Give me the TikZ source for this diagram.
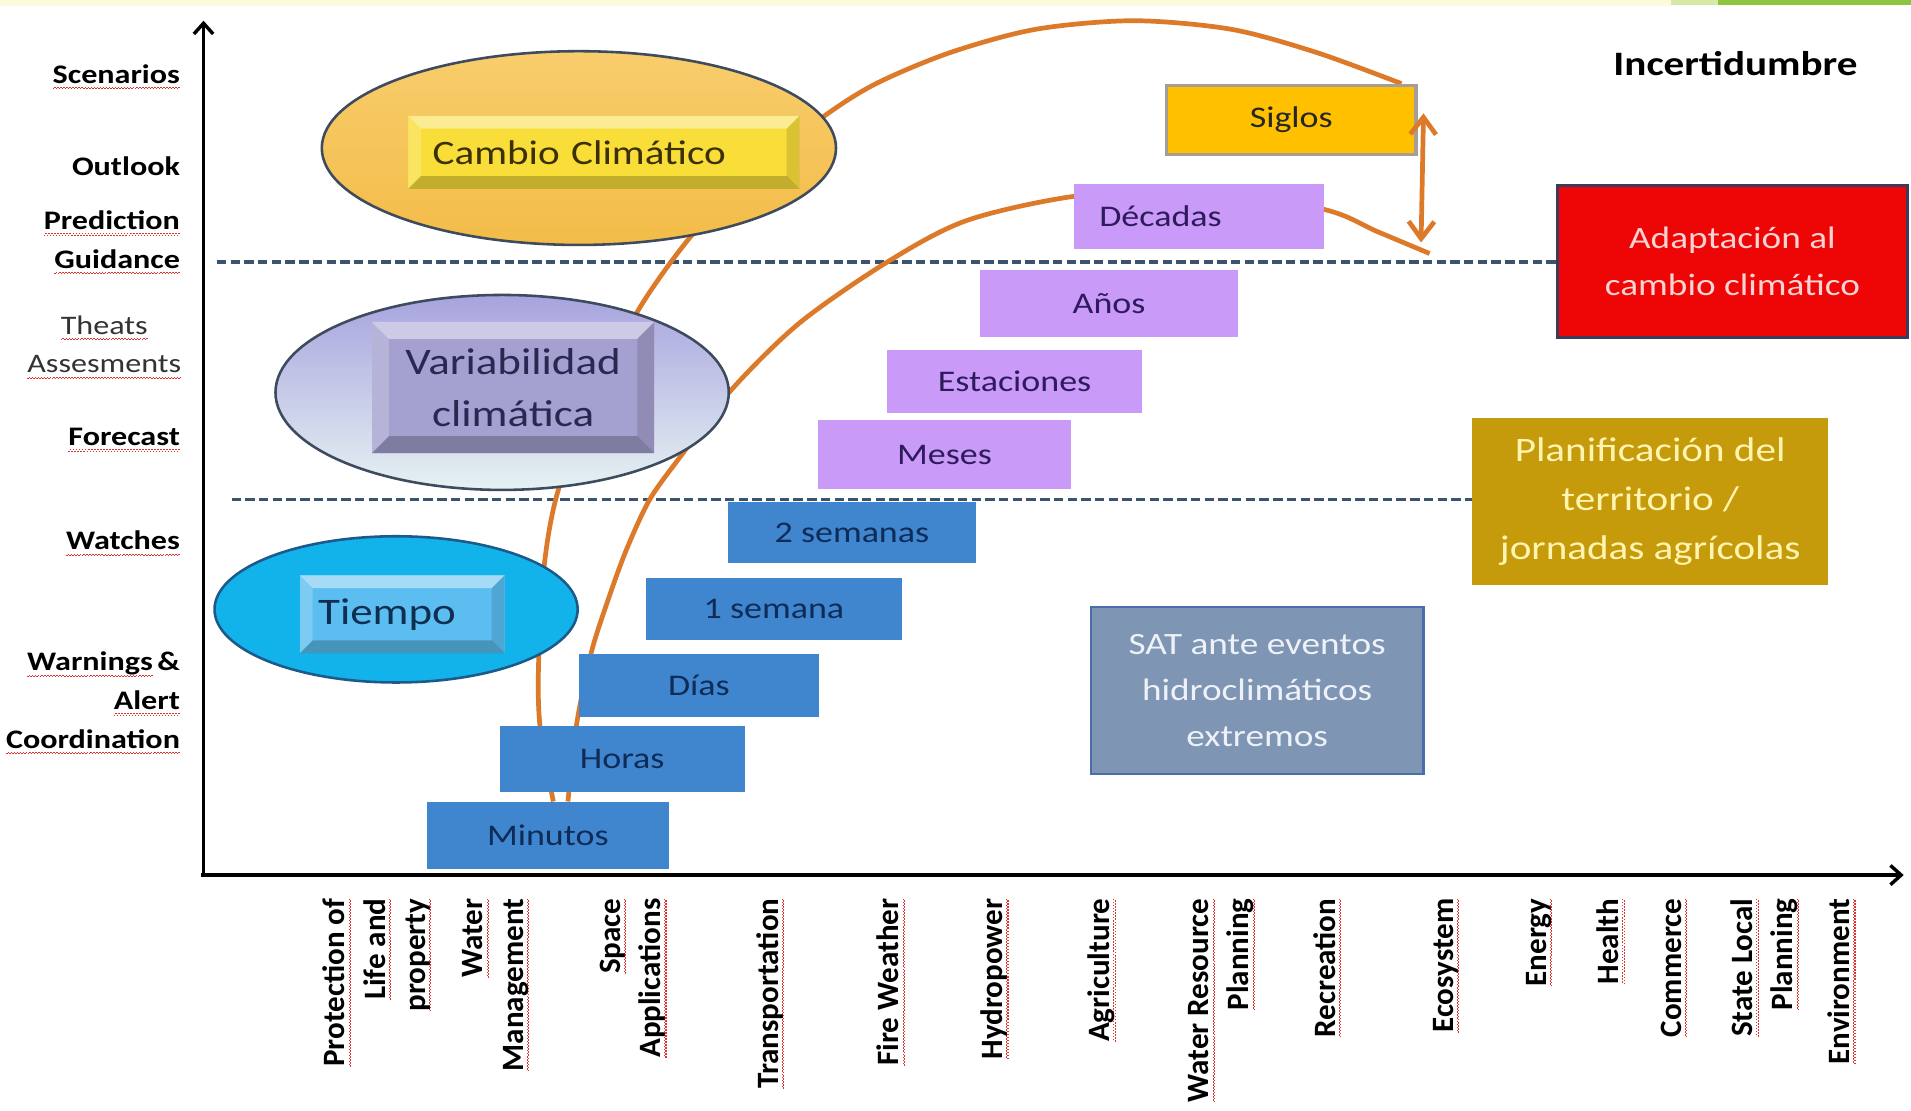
\documentclass[tikz,border=0pt]{standalone}
\usepackage{fontspec}
\setmainfont[FakeStretch=1.2]{Carlito}
\newfontfamily\axisfont{Carlito}
\usetikzlibrary{shapes.geometric,arrows.meta}
\pgfdeclarelayer{background}
\pgfsetlayers{background,main}

\definecolor{lilac}{HTML}{C99AF8}
\definecolor{lilactext}{HTML}{2E1B5C}
\definecolor{boxblue}{HTML}{3F86CF}
\definecolor{bluetext}{HTML}{0F2B57}
\definecolor{siglosgold}{HTML}{FFC000}
\definecolor{siglosedge}{HTML}{A39E97}
\definecolor{adaptred}{HTML}{EE0505}
\definecolor{adaptedge}{HTML}{3B3B5B}
\definecolor{adapttext}{HTML}{FBD3D3}
\definecolor{planifgold}{HTML}{C59A0B}
\definecolor{planiftext}{HTML}{FFF4B0}
\definecolor{satgrey}{HTML}{7E95B3}
\definecolor{satedge}{HTML}{4A6EAA}
\definecolor{sattext}{HTML}{EEF2F8}
\definecolor{cambiotop}{HTML}{F8CD6C}
\definecolor{cambioorange}{HTML}{F3BC48}
\definecolor{cambioyellow}{HTML}{F9DE3A}
\definecolor{cambiotext}{HTML}{3A3000}
\definecolor{ellborder}{HTML}{3E4A5E}
\definecolor{vartop}{HTML}{A7A3DE}
\definecolor{varbottom}{HTML}{E6F2F2}
\definecolor{varbox}{HTML}{A4A0D0}
\definecolor{vartext}{HTML}{2A2850}
\definecolor{tiempocyan}{HTML}{12B3EA}
\definecolor{tiempoedge}{HTML}{1C5A8C}
\definecolor{tiempobox}{HTML}{5CBEF0}
\definecolor{tiempotext}{HTML}{0F2F52}
\definecolor{curveorange}{HTML}{DD7A2A}
\definecolor{dashblue}{HTML}{3A5470}
\definecolor{spellred}{HTML}{E03030}
\definecolor{topband}{HTML}{FBFBDC}
\definecolor{greenlight}{HTML}{D6E9A6}
\definecolor{greenband}{HTML}{8DC540}

\newcommand\redwave[1]{\setbox0\hbox{#1}\rlap{\textcolor{spellred}{\hbox to\wd0{\xleaders\hbox{\rule[-2.9pt]{0.7pt}{0.5pt}\rule[-2.3pt]{0.7pt}{0.5pt}}\hfill}}}\box0}

\begin{document}
\begin{tikzpicture}[x=0.02cm,y=-0.02cm]
\tikzset{every node/.style={inner sep=0pt},
  levellab/.style={font=\fontsize{12.5}{18}\selectfont\bfseries, anchor=east, align=right},
  sectorlab/.style={font=\axisfont\bfseries\fontsize{14.5}{18.8}\selectfont, rotate=90, anchor=east, align=right},
  axisline/.style={line width=1.6pt, -{Straight Barb[length=5pt,width=9pt]}},
  dashline/.style={draw=dashblue, line width=1.5pt, dash pattern=on 4.4pt off 2pt},
  orangearc/.style={draw=curveorange, line width=2.2pt},
  climell/.style={ellipse, draw=ellborder, line width=1.2pt},
  purplebox/.style={fill=lilac, text=lilactext, font=\fontsize{14}{16}\selectfont},
  bluebox/.style={fill=boxblue, text=bluetext, font=\fontsize{14}{16}\selectfont},
  bevel/.style={path picture={
    \fill[white,opacity=.45] (path picture bounding box.north west) -- (path picture bounding box.north east)
      -- ([shift={(-#1,-#1)}]path picture bounding box.north east) -- ([shift={(#1,-#1)}]path picture bounding box.north west) -- cycle;
    \fill[white,opacity=.2] (path picture bounding box.north west) -- ([shift={(#1,-#1)}]path picture bounding box.north west)
      -- ([shift={(#1,#1)}]path picture bounding box.south west) -- (path picture bounding box.south west) -- cycle;
    \fill[black,opacity=.12] (path picture bounding box.north east) -- ([shift={(-#1,-#1)}]path picture bounding box.north east)
      -- ([shift={(-#1,#1)}]path picture bounding box.south east) -- (path picture bounding box.south east) -- cycle;
    \fill[black,opacity=.22] (path picture bounding box.south west) -- ([shift={(#1,#1)}]path picture bounding box.south west)
      -- ([shift={(-#1,#1)}]path picture bounding box.south east) -- (path picture bounding box.south east) -- cycle;
  }},
  bevel/.default=6pt
}
\useasboundingbox (0,0) rectangle (1568,911);

\coordinate (orig) at (167,718);
\coordinate (ytip) at (167,17);
\coordinate (xstart) at (165,718);
\coordinate (xtip) at (1562,718);
\draw[axisline] (orig) -- (ytip);
\draw[axisline] (xstart) -- (xtip);

\node[levellab] (scen) at (148,63) {\redwave{Scenarios}};
\node[levellab] (outlook) at (148,136) {Outlook};
\node[levellab] (predguid) at (148,199) {\redwave{Prediction}\\\redwave{Guidance}};
\node[levellab, font=\fontsize{12.5}{18}\selectfont, text=black!80, align=center] (theats) at (149,285) {\redwave{Theats}\\\redwave{Assesments}};
\node[levellab] (forecast) at (148,361) {\redwave{Forecast}};
\node[levellab] (watches) at (148,446) {\redwave{Watches}};
\node[levellab] (warnings) at (148,577) {\redwave{Warnings}\,\&\\\redwave{Alert}\\\redwave{Coordination}};

\node[climell, top color=cambiotop, bottom color=cambioorange, minimum width=8.44cm, minimum height=3.18cm] (cambioell) at (475,121.5) {};
\node[climell, top color=vartop, bottom color=varbottom, minimum width=7.44cm, minimum height=3.2cm] (varell) at (412,322) {};
\node[climell, draw=tiempoedge, fill=tiempocyan, minimum width=5.96cm, minimum height=2.4cm] (tiempoell) at (325,500) {};

\node[bevel, fill=cambioyellow, text=cambiotext, minimum width=6.42cm, minimum height=1.2cm, text width=5.62cm, inner xsep=0.4cm, align=left, font=\fontsize{16}{19}\selectfont] (cambio) at (495.5,125) {Cambio Climático};
\node[bevel=8pt, fill=varbox, text=vartext, minimum width=4.64cm, minimum height=2.16cm, align=center, font=\fontsize{17.5}{24.5}\selectfont] (variab) at (421,318) {Variabilidad\\climática};
\node[bevel, fill=tiempobox, text=tiempotext, minimum width=3.36cm, minimum height=1.28cm, text width=2.76cm, inner xsep=0.3cm, align=left, font=\fontsize{17.5}{20}\selectfont] (tiempo) at (330,504) {Tiempo};

\node[fill=siglosgold, draw=siglosedge, line width=1.6pt, text=black!85, font=\fontsize{14}{16}\selectfont, minimum width=4.1cm, minimum height=1.14cm] (siglos) at (1059.5,98.5) {Siglos};
\node[purplebox, minimum width=4.1cm, minimum height=1.06cm, text width=3.26cm, inner xsep=0.42cm, align=left] (decadas) at (983.5,177.5) {Décadas};
\node[purplebox, minimum width=4.24cm, minimum height=1.09cm] (anos) at (910,249) {Años};
\node[purplebox, minimum width=4.18cm, minimum height=1.04cm] (estaciones) at (832.5,313) {Estaciones};
\node[purplebox, minimum width=4.16cm, minimum height=1.12cm] (meses) at (775,373) {Meses};
\node[bluebox, minimum width=4.08cm, minimum height=1.0cm] (dossem) at (699,437) {2 semanas};
\node[bluebox, minimum width=4.2cm, minimum height=1.02cm] (unasem) at (635,499.5) {1 semana};
\node[bluebox, minimum width=3.94cm, minimum height=1.02cm] (dias) at (573.5,562.5) {Días};
\node[bluebox, minimum width=4.02cm, minimum height=1.08cm] (horas) at (510.5,623) {Horas};
\node[bluebox, minimum width=3.98cm, minimum height=1.1cm] (minutos) at (449.5,685.5) {Minutos};

\node[fill=adaptred, draw=adaptedge, line width=1.4pt, text=adapttext, align=center, font=\fontsize{14.5}{21.6}\selectfont, minimum width=5.74cm, minimum height=2.5cm] (adapt) at (1421.5,214.5) {Adaptación al\\cambio climático};
\node[fill=planifgold, text=planiftext, align=center, font=\fontsize{16}{23}\selectfont, minimum width=5.84cm, minimum height=2.74cm] (planif) at (1354,411.5) {Planificación del\\territorio /\\jornadas agrícolas};
\node[fill=satgrey, draw=satedge, line width=1.2pt, text=sattext, align=center, font=\fontsize{14.5}{21.6}\selectfont, minimum width=5.46cm, minimum height=2.74cm] (sat) at (1031.5,566.5) {SAT ante eventos\\hidroclimáticos\\extremos};
\node[font=\fontsize{16}{19}\selectfont\bfseries] (incert) at (1424,52) {Incertidumbre};

\node[sectorlab] (prot) at (309.5,737) {\redwave{Protection of}\\\redwave{Life and}\\\redwave{property}};
\node[sectorlab] (water) at (407,737) {\redwave{Water}\\\redwave{Management}};
\node[sectorlab] (space) at (519.5,737) {\redwave{Space}\\\redwave{Applications}};
\node[sectorlab] (transp) at (632,737) {\redwave{Transportation}};
\node[sectorlab] (fire) at (731,737) {\redwave{Fire Weather}};
\node[sectorlab] (hydro) at (816,737) {\redwave{Hydropower}};
\node[sectorlab] (agri) at (904,737) {\redwave{Agriculture}};
\node[sectorlab] (wres) at (1002.5,737) {\redwave{Water Resource}\\\redwave{Planning}};
\node[sectorlab] (recre) at (1089,737) {\redwave{Recreation}};
\node[sectorlab] (eco) at (1186.5,737) {\redwave{Ecosystem}};
\node[sectorlab] (energy) at (1263,737) {\redwave{Energy}};
\node[sectorlab] (health) at (1321.5,737) {\redwave{Health}};
\node[sectorlab] (commerce) at (1373.5,737) {\redwave{Commerce}};
\node[sectorlab] (statelocal) at (1448,737) {\redwave{State Local}\\\redwave{Planning}};
\node[sectorlab] (env) at (1511,737) {\redwave{Environment}};

\coordinate (arrtop) at (1168,93);
\coordinate (arrbot) at (1166,199);
\draw[orangearc, <->, >={Straight Barb[length=8pt,width=12pt]}] (arrtop) -- (arrbot);

\begin{pgfonlayer}{background}
\fill[white] (0,0) rectangle (1568,911);
\fill[topband] (0,0) rectangle (1371,5);
\fill[greenlight] (1371,0) rectangle (1410,4);
\fill[greenband] (1410,0) rectangle (1568,4);
\coordinate (dashA) at (178,215);
\coordinate (dashB) at (190,410);
\draw[dashline] (dashA) -- (dashA -| adapt.west);
\draw[dashline] (dashB) -- (dashB -| planif.west);
\coordinate (arcAstart) at ([xshift=0.09cm]minutos.north);
\coordinate (arcAend) at ([xshift=-0.27cm]siglos.north east);
\coordinate (arcBstart) at ([xshift=0.33cm]minutos.north);
\coordinate (arcBend) at (1173,208);
\draw[orangearc] plot[smooth] coordinates {(arcAstart) (443,595) (442,541) (447,460) (459,399) (490,322) (524,254) (566,195) (618,140) (678,94) (720,68) (780,43) (850,24) (930,17) (1010,24) (1080,43) (arcAend)};
\draw[orangearc] plot[smooth] coordinates {(arcBstart) (473,595) (485,536) (499,492) (514,451) (533,410) (558,375) (600,320) (656,265) (728,215) (793,181) (882,161) (985,155) (1087,172) (1130,190) (arcBend)};
\end{pgfonlayer}
\end{tikzpicture}
\end{document}
